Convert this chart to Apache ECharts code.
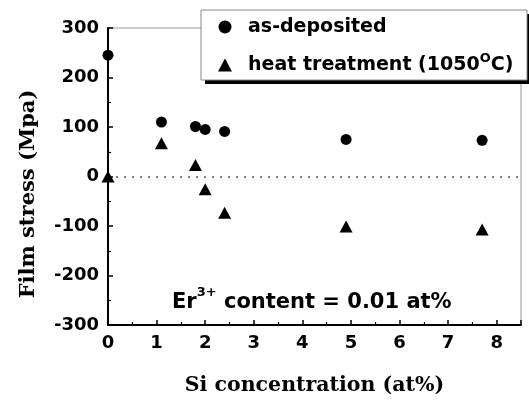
<!DOCTYPE html>
<html><head><meta charset="utf-8">
<script src="https://cdn.jsdelivr.net/npm/echarts@6/dist/echarts.min.js"></script>
<style>html,body{margin:0;padding:0;background:#fff}#c{width:529px;height:401px}</style>
</head><body><div id="c"></div>
<script>
const xAsDep = [0, 1.1, 1.8, 2.0, 2.4, 4.9, 7.7];
const yAsDep = [245, 110, 101, 95, 91, 75, 73];
const xHeat = [0, 1.1, 1.8, 2.0, 2.4, 4.9, 7.7];
const yHeat = [0, 67, 23, -26, -73, -101, -107];
const seriesNames = ['as-deposited', 'heat treatment (1050OC)'];
const xTitle = 'Si concentration (at%)';
const yTitle = 'Film stress (Mpa)';

const chart = echarts.init(document.getElementById('c'), null, {renderer: 'canvas'});
const sans = 'DejaVu Sans, Liberation Sans, Arial, sans-serif';
const serif = 'DejaVu Serif, Liberation Serif, serif';
chart.setOption({
  animation: false,
  backgroundColor: '#fff',
  grid: {left: 108, right: 8, top: 28, bottom: 72, show: true, borderColor: '#999', borderWidth: 1, backgroundColor: 'transparent'},
  xAxis: {
    type: 'value', min: 0, max: 8.5, interval: 1,
    name: xTitle, nameLocation: 'middle', nameGap: 50,
    nameTextStyle: {fontFamily: serif, fontWeight: 'bold', fontSize: 20.5, color: '#000'},
    axisLine: {show: true, onZero: false, lineStyle: {color: '#000', width: 2}},
    axisTick: {show: true, inside: true, length: 5, lineStyle: {color: '#000', width: 1.5}},
    minorTick: {show: true, splitNumber: 2, length: 3, lineStyle: {color: '#000', width: 1.2}},
    splitLine: {show: false},
    axisLabel: {showMaxLabel: false, margin: 9, fontFamily: sans, fontWeight: 'bold', fontSize: 18, color: '#000'}
  },
  yAxis: {
    type: 'value', min: -300, max: 300, interval: 100,
    axisLine: {show: true, onZero: false, lineStyle: {color: '#000', width: 2}},
    axisTick: {show: true, inside: true, length: 5, lineStyle: {color: '#000', width: 1.5}},
    minorTick: {show: true, splitNumber: 2, length: 3, lineStyle: {color: '#000', width: 1.2}},
    splitLine: {show: false},
    axisLabel: {margin: 9, fontFamily: sans, fontWeight: 'bold', fontSize: 18, color: '#000'}
  },
  legend: {
    orient: 'vertical', left: 218, top: 14, padding: 0, itemGap: 12,
    itemWidth: 14, itemHeight: 13, z: 20,
    data: seriesNames,
    formatter: function (n) {
      if (n === seriesNames[1]) return '{f|heat treatment (1050}{s|O}{t|C)}';
      return '{f|' + n + '}';
    },
    textStyle: {
      fontFamily: sans, fontWeight: 'bold', fontSize: 19, color: '#000', lineHeight: 26,
      rich: {
        f: {fontFamily: sans, fontWeight: 'bold', fontSize: 19, color: '#000', lineHeight: 26, padding: [0, 0, 0, 11]},
        t: {fontFamily: sans, fontWeight: 'bold', fontSize: 19, color: '#000', lineHeight: 26},
        s: {fontFamily: sans, fontWeight: 'bold', fontSize: 13, color: '#000', verticalAlign: 'top', lineHeight: 14}
      }
    }
  },
  graphic: [
    {type: 'rect', z: 10, shape: {x: 205, y: 14, width: 330, height: 70}, style: {fill: '#000'}},
    {type: 'rect', z: 11, shape: {x: 201, y: 10, width: 326, height: 70}, style: {fill: '#fff', stroke: '#888', lineWidth: 1}},
    {type: 'text', z: 12, x: 29, y: 194, rotation: Math.PI / 2,
      style: {text: yTitle, font: 'bold 21px ' + serif, fill: '#000', align: 'center', verticalAlign: 'middle'}},
    {type: 'text', z: 12, x: 172, y: 303,
      style: {
        text: '{a|Er}{s|3+}{a| content = 0.01 at%}', align: 'left', verticalAlign: 'middle',
        rich: {
          a: {fontFamily: sans, fontWeight: 'bold', fontSize: 21, fill: '#000', color: '#000', lineHeight: 34},
          s: {fontFamily: sans, fontWeight: 'bold', fontSize: 13, fill: '#000', color: '#000', verticalAlign: 'top', lineHeight: 14}
        }
      }}
  ],
  series: [
    {
      name: seriesNames[0], type: 'scatter', symbol: 'circle', symbolSize: 11,
      itemStyle: {color: '#000', opacity: 1}, z: 5,
      data: xAsDep.map((x, i) => [x, yAsDep[i]]),
      markLine: {
        silent: true, symbol: 'none', label: {show: false},
        lineStyle: {color: '#555', type: [2, 6], width: 1.5},
        data: [{yAxis: 0}]
      }
    },
    {
      name: seriesNames[1], type: 'scatter', symbol: 'triangle', symbolSize: [13, 12],
      itemStyle: {color: '#000', opacity: 1}, z: 5,
      data: xHeat.map((x, i) => [x, yHeat[i]])
    }
  ]
});
</script></body></html>
